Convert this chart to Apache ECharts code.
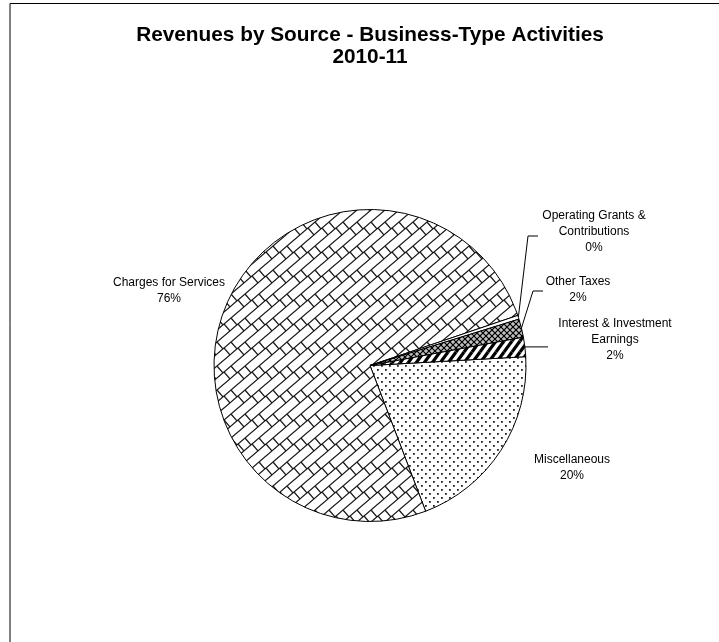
<!DOCTYPE html>
<html>
<head>
<meta charset="utf-8">
<script src="https://cdn.jsdelivr.net/npm/echarts@6/dist/echarts.min.js"></script>
<style>
  html, body { margin: 0; padding: 0; background: #fff; }
  #chart { width: 719px; height: 642px; }
</style>
</head>
<body>
<div id="chart"></div>
<script>
// Revenue sources, in the order the slices are laid out clockwise from 3 o'clock
const categories = [
  'Miscellaneous',
  'Charges for Services',
  'Operating Grants & Contributions',
  'Other Taxes',
  'Interest & Investment Earnings'
];
// Label text as it wraps beside each slice
const labelNames = [
  'Miscellaneous',
  'Charges for Services',
  'Operating Grants &\nContributions',
  'Other Taxes',
  'Interest & Investment\nEarnings'
];
// Share of business-type revenue (%)
const shares = [20.1, 75.6, 0.4, 1.9, 2.0];

const titleLines = ['Revenues by Source - Business-Type Activities', '2010-11'];

// Where each label sits, plus the bends of its leader line (pixels)
const labelSpots = [
  { x: 572, y: 468 },
  { x: 169, y: 291 },
  { x: 594, y: 232, elbow: [528, 236], endX: 538, endY: 236 },
  { x: 578, y: 290, elbow: [533, 291], endX: 543, endY: 291 },
  { x: 615, y: 340, endX: 548 }
];

// ---- monochrome fill patterns -------------------------------------------
function tile(w, h, paint) {
  const c = document.createElement('canvas');
  c.width = w; c.height = h;
  const g = c.getContext('2d');
  g.fillStyle = '#fff';
  g.fillRect(0, 0, w, h);
  paint(g, w, h);
  return c;
}
function strokeWrapped(g, w, h, segs) {
  for (const dx of [-w, 0, w]) {
    for (const dy of [-h, 0, h]) {
      g.beginPath();
      for (const [x1, y1, x2, y2] of segs) {
        g.moveTo(x1 + dx, y1 + dy);
        g.lineTo(x2 + dx, y2 + dy);
      }
      g.stroke();
    }
  }
}

// Diagonal brick: rising rows joined by perpendicular links, staggered row to row
const BW = 14, BH = 12;
const brickTile = tile(BW, 2 * BH, (g, w, h) => {
  const t = (BW * BH) / (BW * BW + BH * BH);
  const ldx = t * BH, ldy = t * BW;
  g.strokeStyle = '#1a1a1a'; g.lineWidth = 1.3;
  strokeWrapped(g, w, h, [
    [0, BH, BW, 0],
    [0, 2 * BH, BW, BH],
    [BW / 2, BH / 2, BW / 2 + ldx, BH / 2 + ldy],
    [BW, BH, BW + ldx, BH + ldy]
  ]);
});
const dotTile = tile(8, 8, (g) => {
  g.fillStyle = '#222';
  g.fillRect(1, 1, 1.8, 1.8);
  g.fillRect(5, 5, 1.8, 1.8);
});
const stripeTile = tile(8, 11, (g, w, h) => {
  g.strokeStyle = '#000'; g.lineWidth = 3.2;
  strokeWrapped(g, w, h, [[0, h, w, 0]]);
});
const latticeTile = tile(6, 6, (g, w, h) => {
  g.strokeStyle = '#000'; g.lineWidth = 1.4;
  strokeWrapped(g, w, h, [[0, 0, w, h], [0, h, w, 0]]);
  g.fillStyle = '#000';
  g.fillRect(2.5, -0.5, 1, 1);
  g.fillRect(-0.5, 2.5, 1, 1);
  g.fillRect(5.5, 2.5, 1, 1);
  g.fillRect(2.5, 5.5, 1, 1);
});
const fills = [
  { image: dotTile, repeat: 'repeat' },
  { image: brickTile, repeat: 'repeat' },
  '#ffffff',
  { image: latticeTile, repeat: 'repeat' },
  { image: stripeTile, repeat: 'repeat' }
];

const pieData = categories.map((name, i) => {
  const item = {
    name: name,
    value: shares[i],
    itemStyle: { color: fills[i] }
  };
  if (labelSpots[i].endX != null) {
    item.labelLine = { show: true, length: 8, length2: 8, lineStyle: { color: '#000', width: 1 } };
  }
  return item;
});

const chart = echarts.init(document.getElementById('chart'), null, { renderer: 'canvas' });
chart.setOption({
  animation: false,
  backgroundColor: '#fff',
  graphic: [
    {
      type: 'rect',
      silent: true,
      shape: { x: 10, y: 3.5, width: 760, height: 700 },
      style: { fill: 'none', stroke: '#000', lineWidth: 1 }
    },
    {
      type: 'text',
      silent: true,
      x: 370, y: 24,
      style: {
        text: titleLines.join('\n'),
        align: 'center',
        verticalAlign: 'top',
        fontFamily: '"Liberation Sans", Arial, sans-serif',
        fontSize: 20.8,
        fontWeight: 'bold',
        lineHeight: 22,
        fill: '#000'
      }
    }
  ],
  series: [{
    type: 'pie',
    silent: true,
    center: [370, 365.5],
    radius: 156,
    startAngle: 3.25,
    clockwise: true,
    avoidLabelOverlap: false,
    itemStyle: { borderColor: '#000', borderWidth: 1 },
    emphasis: { disabled: true },
    label: {
      show: true,
      position: 'outside',
      color: '#000',
      fontFamily: '"Liberation Sans", Arial, sans-serif',
      fontSize: 12,
      lineHeight: 16,
      align: 'center',
      formatter: (p) => labelNames[p.dataIndex] + '\n' + Math.round(p.percent) + '%'
    },
    labelLine: { show: false },
    labelLayout: (p) => {
      const s = labelSpots[p.dataIndex];
      const out = { x: s.x, y: s.y, align: 'center', verticalAlign: 'middle' };
      if (s.endX != null && p.labelLinePoints) {
        const start = p.labelLinePoints[0].slice();
        const pts = [start];
        if (s.elbow) pts.push(s.elbow);
        pts.push([s.endX, s.endY != null ? s.endY : start[1]]);
        out.labelLinePoints = pts;
      }
      return out;
    },
    data: pieData
  }]
});
</script>
</body>
</html>
